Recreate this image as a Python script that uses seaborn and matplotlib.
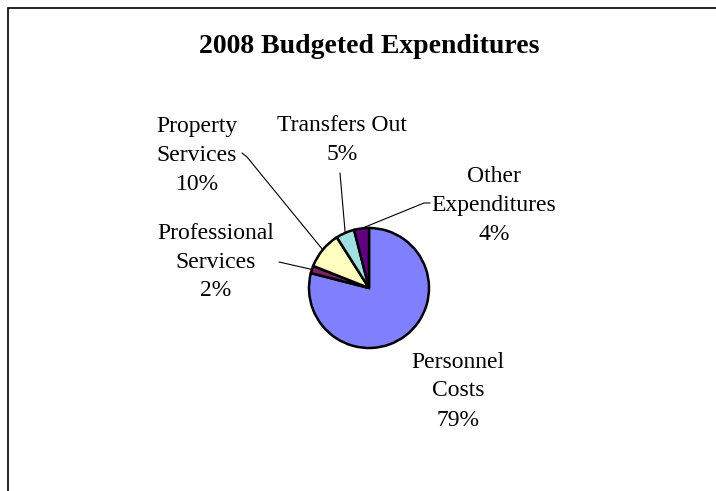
import numpy as np
import matplotlib
matplotlib.use("Agg")
import matplotlib.pyplot as plt
from matplotlib.patches import Rectangle
import seaborn as sns

W, H = 716, 491

# chart data
categories = ["Personnel\nCosts", "Professional\nServices", "Property\nServices",
              "Transfers Out", "Other\nExpenditures"]
shares = [79, 2, 10, 5, 4]
colors = ["#8080FF", "#802060", "#FFFFC0", "#A0E0E0", "#600080"]

# label placement (pixel coords from top-left) and leader line paths
label_pos = [(458, 391), (216, 262), (197, 155), (342, 140), (494, 205)]
leader_pts = [None, [(279, 262)], [(242, 153), (247, 157)], [(340, 173)],
              [(430, 203), (424, 203)]]

sns.set_theme(style="white")
plt.rcParams["font.family"] = ["Liberation Serif", "DejaVu Serif"]

fig = plt.figure(figsize=(W / 100, H / 100), dpi=100)
ax = fig.add_axes([0, 0, 1, 1])

def px(x, y):
    return x, H - y

cx, cy = px(369, 288)
r = 60
wedges, _ = ax.pie(shares, colors=colors, startangle=90, counterclock=False,
                   center=(cx, cy), radius=r, frame=True,
                   wedgeprops=dict(edgecolor="black", linewidth=1.8))
ax.set_xlim(0, W)
ax.set_ylim(0, H)
ax.set_aspect("equal")
ax.axis("off")

for w, cat, val, lp, pts in zip(wedges, categories, shares, label_pos, leader_pts):
    ax.text(*px(*lp), f"{cat}\n{val}%", ha="center", va="center",
            fontsize=17, linespacing=1.5, color="black")
    if pts is not None:
        mid = np.deg2rad((w.theta1 + w.theta2) / 2)
        ex, ey = cx + r * np.cos(mid), cy + r * np.sin(mid)
        xs = [px(*p)[0] for p in pts] + [ex]
        ys = [px(*p)[1] for p in pts] + [ey]
        ax.plot(xs, ys, color="black", linewidth=0.8)

ax.text(*px(369, 46), "2008 Budgeted Expenditures", ha="center", va="center",
        fontsize=20, fontweight="bold", color="black")

fig.patches.append(Rectangle((8 / W, -0.1), 1.2, 1 - 8 / H + 0.1,
                             transform=fig.transFigure, fill=False,
                             edgecolor="black", linewidth=1.2))

fig.savefig("out.png", dpi=100)
